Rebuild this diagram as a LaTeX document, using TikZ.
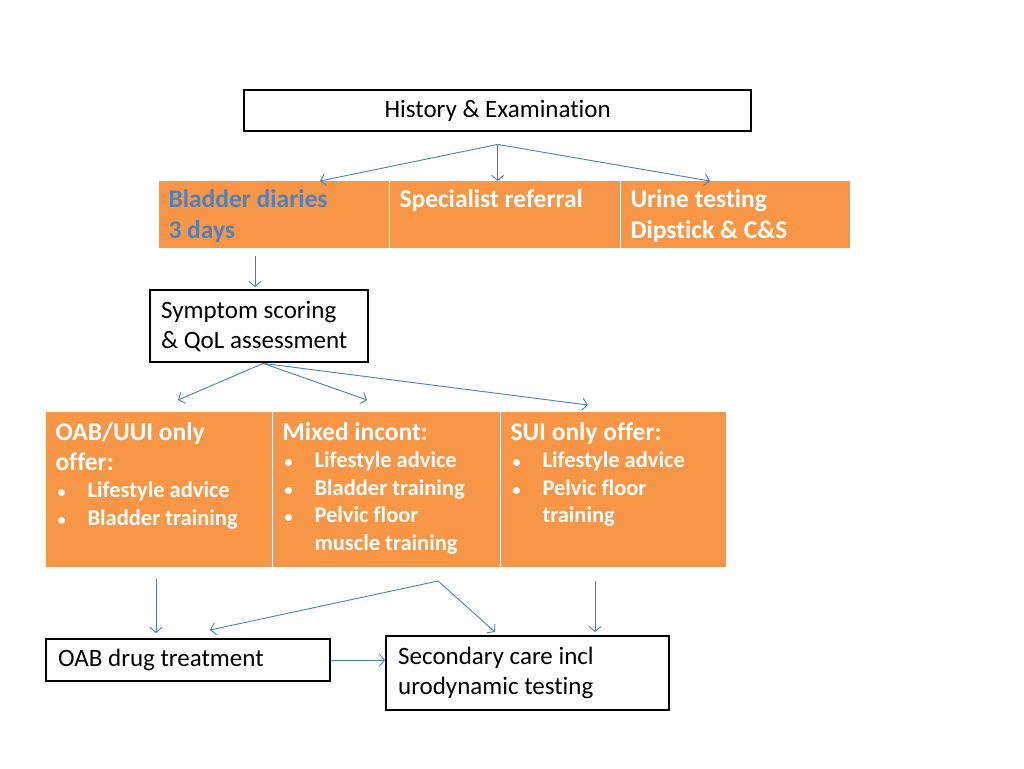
\documentclass[tikz,border=0pt]{standalone}
\usepackage{fontspec}
\setmainfont{Carlito}[Ligatures=CommonOff]
\usepackage{tikz}
\usetikzlibrary{arrows.meta, positioning}
\definecolor{cellorange}{HTML}{F79646}
\definecolor{linkblue}{HTML}{4A7EBB}
\definecolor{headblue}{HTML}{4F81BD}
\newcommand{\cellbody}[4]{\parbox[c][#2][t]{#1}{\raggedright\vspace*{#3}#4}}
\newcommand{\itemline}[1]{\makebox[32pt][l]{\hspace{2pt}{\fontsize{16}{16}\selectfont\textbullet}}#1}
\newcommand{\headsize}{\fontsize{25.5}{30}\selectfont}
\newcommand{\itemsize}{\fontsize{22.5}{27.5}\selectfont}
\tikzset{plainbox/.style={rectangle,draw=black,line width=2.4pt,fill=white,anchor=north west,align=flush left,font=\fontsize{25}{30}\selectfont},
         orangecell/.style={rectangle,draw=white,line width=1pt,fill=cellorange,anchor=north west,inner xsep=10pt,inner ysep=0pt,text=white,font=\bfseries\fontsize{25.5}{31}\selectfont},
         arrow/.style={-{Straight Barb[length=5pt,width=12pt]},linkblue,line width=0.9pt}}

\begin{document}
\begin{tikzpicture}[x=1pt,y=-1pt]
    \useasboundingbox (0,0) rectangle (1024,768);
    % Boxes
    \node (hist) at (243,89) [plainbox,minimum width=507pt,minimum height=41pt,align=center,font=\fontsize{25}{28}\selectfont]{History \& Examination};
    \node (symp) at (149,289) [plainbox,text width=196pt,inner xsep=11pt,minimum height=72pt]{Symptom scoring\\\& QoL assessment};
    \node (drug) at (45,638) [plainbox,text width=260pt,inner xsep=12pt,minimum height=42pt]{OAB drug treatment};
    \node (sec) at (385,635) [plainbox,text width=259pt,inner xsep=12pt,minimum height=74pt]{Secondary care incl\\urodynamic testing};
    % Upper cells
    \node (diary) at (158,180) [orangecell]{\cellbody{211pt}{68pt}{9pt}{\textcolor{headblue}{Bladder diaries\\3 days}}};
    \node (spec) at (389,180) [orangecell]{\cellbody{211pt}{68pt}{9pt}{Specialist referral}};
    \node (urine) at (620,180) [orangecell]{\cellbody{210pt}{68pt}{9pt}{Urine testing\\Dipstick \& C\&S}};
    % Lower cells
    \node (oab) at (45,411) [orangecell]{\cellbody{207pt}{156pt}{11pt}{{\headsize OAB/UUI only\\offer:\par}{\itemsize\itemline{Lifestyle advice}\\\itemline{Bladder training}\par}}};
    \node (mixed) at (272,411) [orangecell]{\cellbody{208pt}{156pt}{11pt}{{\headsize Mixed incont:\par}{\itemsize\itemline{Lifestyle advice}\\\itemline{Bladder training}\\\itemline{Pelvic floor}\\\hspace*{32pt}muscle training\par}}};
    \node (sui) at (500,411) [orangecell]{\cellbody{206pt}{156pt}{11pt}{{\headsize SUI only offer:\par}{\itemsize\itemline{Lifestyle advice}\\\itemline{Pelvic floor}\\\hspace*{32pt}training\par}}};
    % Arrows
    \draw[arrow] ([yshift=-12pt]hist.south) -- ([xshift=162pt,yshift=-1pt]diary.north west);
    \draw[arrow] ([yshift=-12pt]hist.south) -- ([yshift=-1pt]hist.south |- spec.north);
    \draw[arrow] ([yshift=-12pt]hist.south) -- ([xshift=90pt,yshift=-1pt]urine.north west);
    \draw[arrow] ([xshift=97pt,yshift=-7pt]diary.south west) -- ([xshift=106pt,yshift=2pt]symp.north west);
    \draw[arrow] ([xshift=4pt]symp.south) -- ([xshift=133pt,yshift=11pt]oab.north west);
    \draw[arrow] ([xshift=4pt]symp.south) -- ([xshift=95pt,yshift=11pt]mixed.north west);
    \draw[arrow] ([xshift=4pt]symp.south) -- ([xshift=88pt,yshift=6pt]sui.north west);
    \draw[arrow] ([xshift=111pt,yshift=-11pt]oab.south west) -- ([xshift=111pt,yshift=5pt]drug.north west);
    \draw[arrow] ([xshift=166pt,yshift=-13pt]mixed.south west) -- ([xshift=165pt,yshift=8pt]drug.north west);
    \draw[arrow] ([xshift=166pt,yshift=-13pt]mixed.south west) -- ([xshift=110pt,yshift=3pt]sec.north west);
    \draw[arrow] ([xshift=95pt,yshift=-13pt]sui.south west) -- ([xshift=210pt,yshift=3pt]sec.north west);
    \draw[arrow] (drug.east) -- (drug.east -| sec.west);
\end{tikzpicture}
\end{document}
